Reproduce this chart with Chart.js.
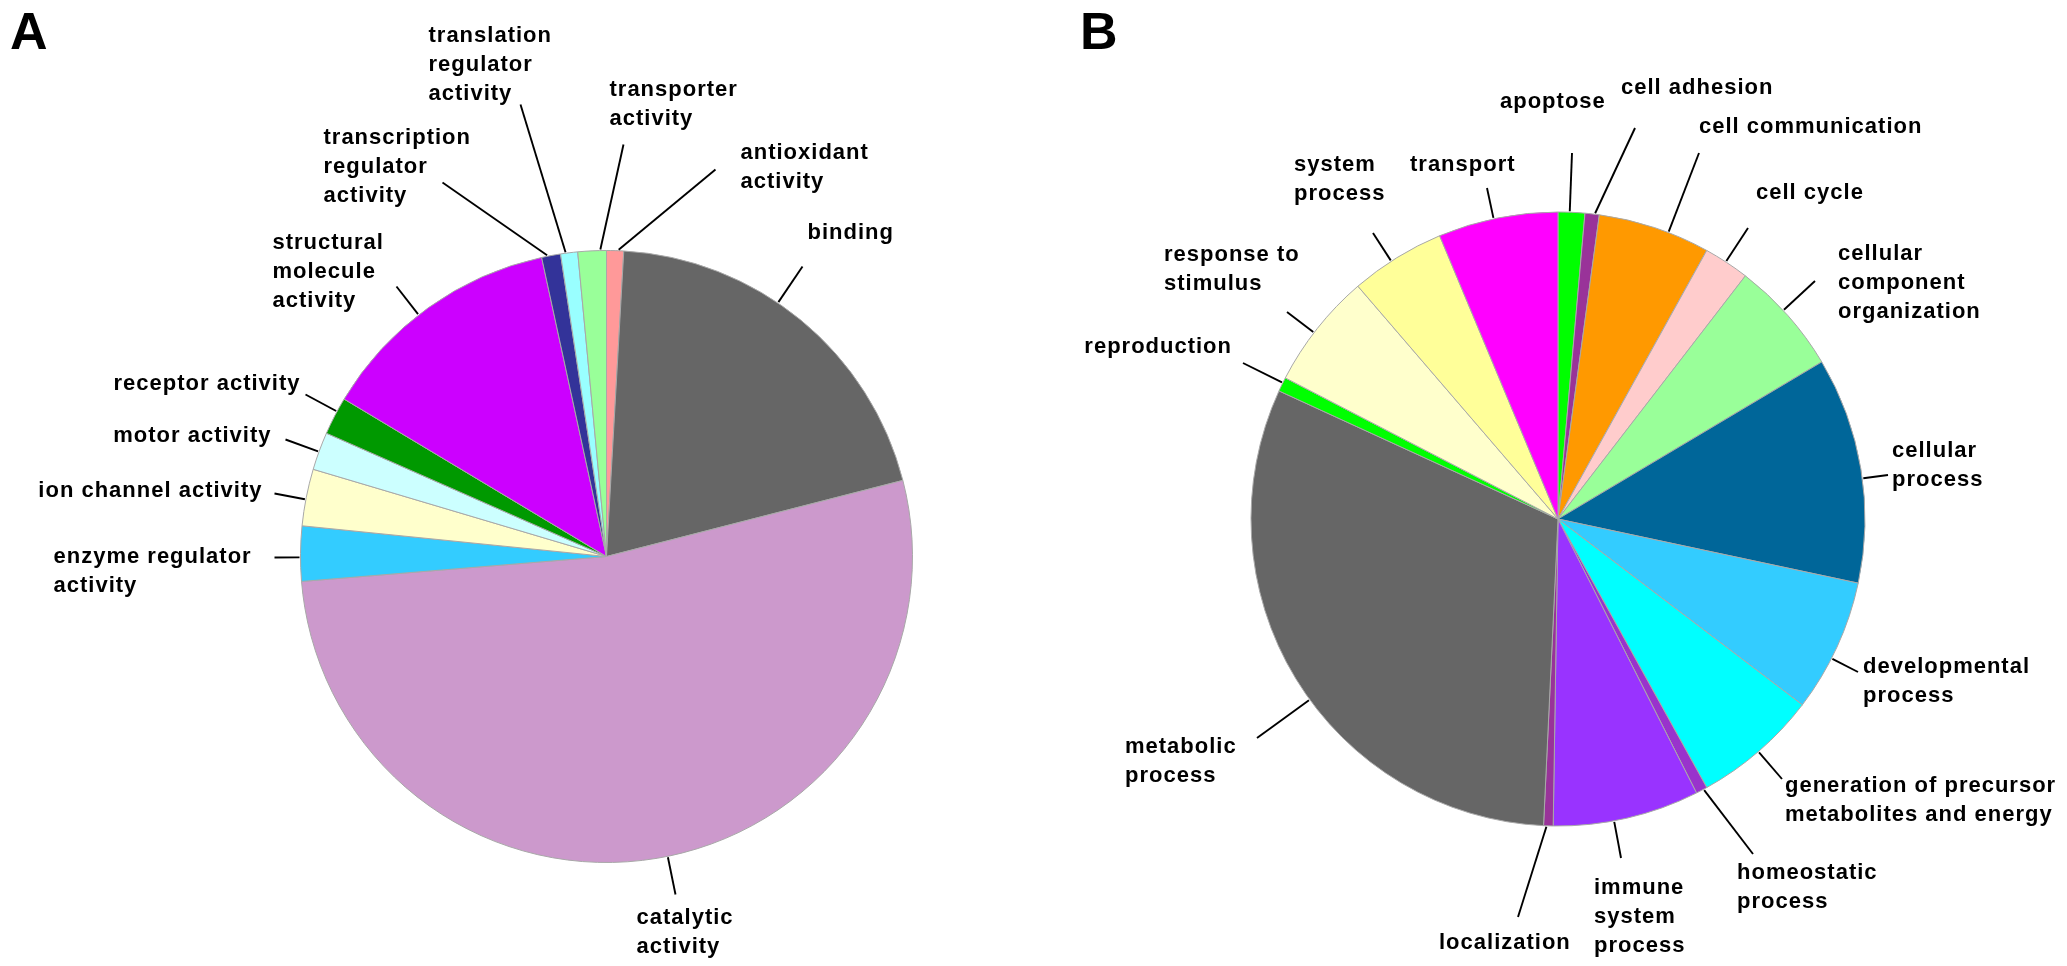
<!DOCTYPE html>
<html>
<head>
<meta charset="utf-8">
<script src="https://cdn.jsdelivr.net/npm/chart.js@4.4.1/dist/chart.umd.min.js"></script>
<style>
html, body { margin: 0; padding: 0; background: #fff; }
#wrap { position: relative; width: 2067px; height: 966px; }
#wrap canvas { position: absolute; top: 0; }
</style>
</head>
<body>
<div id="wrap">
  <canvas id="chartA" width="1030" height="966" style="left:0"></canvas>
  <canvas id="chartB" width="1037" height="966" style="left:1030px"></canvas>
</div>
<script>
// ---- panel A: molecular function ----
var categoriesA = [
  ['antioxidant', 'activity'],
  ['binding'],
  ['catalytic', 'activity'],
  ['enzyme regulator', 'activity'],
  ['ion channel activity'],
  ['motor activity'],
  ['receptor activity'],
  ['structural', 'molecule', 'activity'],
  ['transcription', 'regulator', 'activity'],
  ['translation', 'regulator', 'activity'],
  ['transporter', 'activity']
];
var valuesA = [0.9, 20.1, 52.7, 2.9, 3.0, 2.0, 2.0, 13.0, 1.0, 0.9, 1.5];
var colorsA = ['#FF9999', '#666666', '#CC99CC', '#33CCFF', '#FFFFCC', '#CCFFFF',
               '#009900', '#CC00FF', '#333399', '#99FFFF', '#99FF99'];

// ---- panel B: biological process ----
var categoriesB = [
  ['apoptose'],
  ['cell adhesion'],
  ['cell communication'],
  ['cell cycle'],
  ['cellular', 'component', 'organization'],
  ['cellular', 'process'],
  ['developmental', 'process'],
  ['generation of precursor', 'metabolites and energy'],
  ['homeostatic', 'process'],
  ['immune', 'system', 'process'],
  ['localization'],
  ['metabolic', 'process'],
  ['reproduction'],
  ['response to', 'stimulus'],
  ['system', 'process'],
  ['transport']
];
var valuesB = [1.4, 0.75, 5.9, 2.4, 6.0, 11.9, 7.0, 6.6, 0.6, 7.7, 0.5, 31.1, 0.75, 6.1, 5.0, 6.3];
var colorsB = ['#00FF00', '#993399', '#FF9900', '#FFCCCC', '#99FF99', '#006699',
               '#33CCFF', '#00FFFF', '#9933CC', '#9933FF', '#993399', '#666666',
               '#00FF00', '#FFFFCC', '#FFFF99', '#FF00FF'];

// label placement, px from the pie centre: [text x, first line y, align, leader end x, leader end y]
var layoutA = [
  [134, -404, 'left', 109, -387],
  [201, -324, 'left', 196, -290],
  [30, 361, 'left', 69, 338],
  [-553, 0, 'left', -332, 1],
  [-344, -66, 'right', -332, -63],
  [-335, -121, 'right', -321, -117],
  [-306, -173, 'right', -301, -162],
  [-334, -314, 'left', -210, -270],
  [-283, -419, 'left', -164, -374],
  [-178, -521, 'left', -86, -452],
  [3, -467, 'left', 17, -412]
];
var layoutB = [
  [-58, -417, 'left', 14, -366],
  [63, -431, 'left', 77, -391],
  [141, -392, 'left', 141, -366],
  [198, -326, 'left', 190, -291],
  [280, -265, 'left', 257, -238],
  [334, -68, 'left', 330, -44],
  [305, 148, 'left', 300, 153],
  [227, 267, 'left', 224, 260],
  [179, 354, 'left', 195, 335],
  [36, 369, 'left', 63, 339],
  [-119, 424, 'left', -40, 398],
  [-433, 228, 'left', -301, 219],
  [-326, -172, 'right', -315, -156],
  [-394, -264, 'left', -271, -207],
  [-264, -354, 'left', -185, -286],
  [-148, -354, 'left', -71, -331]
];

var calloutPlugin = {
  id: 'callouts',
  afterDatasetsDraw: function (chart, args, opts) {
    var ctx = chart.ctx;
    var arcs = chart.getDatasetMeta(0).data;
    var labels = chart.data.labels;
    var TWO_PI = Math.PI * 2;
    ctx.save();
    ctx.fillStyle = '#000';
    ctx.strokeStyle = '#000';
    ctx.lineWidth = 1.9;
    ctx.font = 'bold 22px "Liberation Sans", Arial, sans-serif';
    ctx.letterSpacing = '1px';
    ctx.textBaseline = 'middle';
    arcs.forEach(function (arc, i) {
      var p = arc.getProps(['x', 'y', 'startAngle', 'endAngle', 'outerRadius'], true);
      var lay = opts.layout[i];
      var ex = p.x + lay[3], ey = p.y + lay[4];
      // leader starts on the slice edge, pointing toward the label
      var a = Math.atan2(ey - p.y, ex - p.x);
      while (a < p.startAngle) a += TWO_PI;
      while (a >= p.startAngle + TWO_PI) a -= TWO_PI;
      var m = Math.min((p.endAngle - p.startAngle) * 0.3, 0.02);
      if (a > p.endAngle - m) {
        var dEnd = a - p.endAngle;
        var dStart = p.startAngle + TWO_PI - a;
        a = dEnd < dStart ? p.endAngle - m : p.startAngle + m;
      } else if (a < p.startAngle + m) {
        a = p.startAngle + m;
      }
      var sx = p.x + Math.cos(a) * (p.outerRadius + 1);
      var sy = p.y + Math.sin(a) * (p.outerRadius + 1);
      ctx.beginPath();
      ctx.moveTo(sx, sy);
      ctx.lineTo(ex, ey);
      ctx.stroke();

      ctx.textAlign = lay[2];
      labels[i].forEach(function (line, j) {
        ctx.fillText(line, p.x + lay[0], p.y + lay[1] + j * 29);
      });
    });
    // panel letter
    ctx.letterSpacing = '0px';
    ctx.textAlign = 'left';
    ctx.textBaseline = 'alphabetic';
    ctx.font = 'bold 52px "Liberation Sans", Arial, sans-serif';
    ctx.fillText(opts.letter, opts.letterX, 49);
    ctx.restore();
  }
};

function makePie(id, cats, vals, cols, layout, letter, letterX, pad, radius) {
  return new Chart(document.getElementById(id), {
    type: 'pie',
    data: {
      labels: cats,
      datasets: [{
        data: vals,
        backgroundColor: cols,
        borderColor: '#a8a8a8',
        borderWidth: 1
      }]
    },
    options: {
      responsive: false,
      animation: false,
      radius: radius,
      layout: { padding: pad },
      plugins: {
        legend: { display: false },
        tooltip: { enabled: false },
        callouts: { layout: layout, letter: letter, letterX: letterX }
      }
    },
    plugins: [calloutPlugin]
  });
}

makePie('chartA', categoriesA, valuesA, colorsA, layoutA, 'A', 10,
        { left: 300, right: 117, top: 250, bottom: 103 }, 306);
makePie('chartB', categoriesB, valuesB, colorsB, layoutB, 'B', 50,
        { left: 221, right: 202, top: 212, bottom: 140 }, 307);
</script>
</body>
</html>
